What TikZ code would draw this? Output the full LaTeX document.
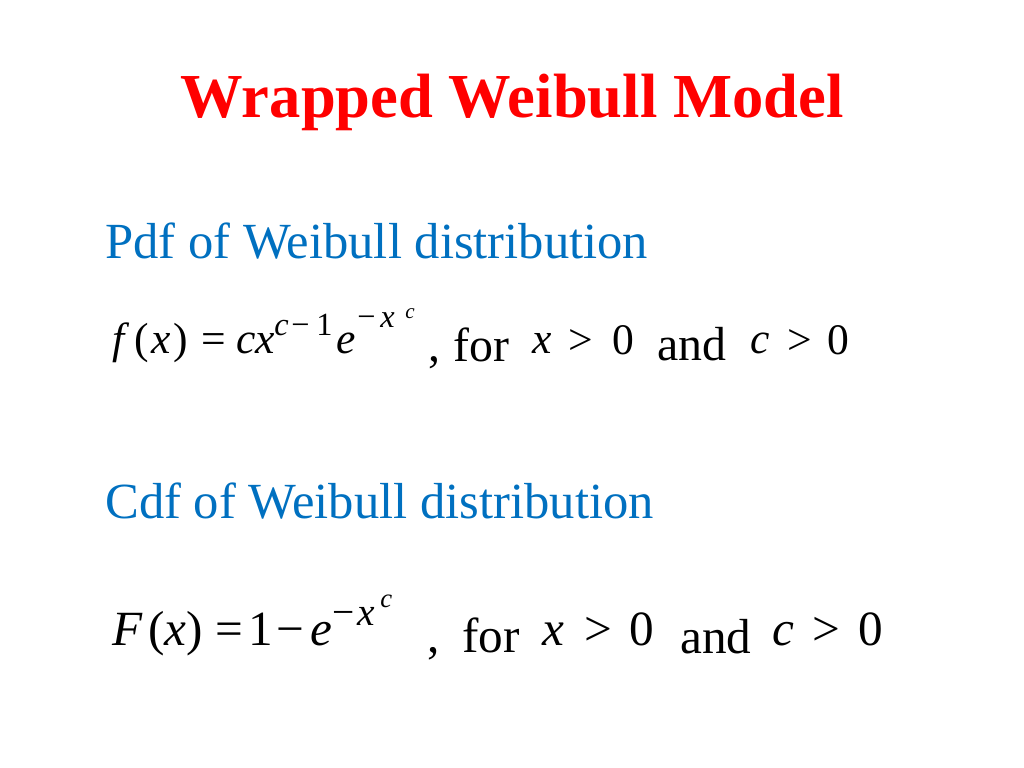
\documentclass[tikz,border=0pt]{standalone}
\usepackage{fontspec}
\setmainfont{Liberation Serif}
\usetikzlibrary{positioning}
\definecolor{titlered}{RGB}{255,0,0}
\definecolor{headblue}{RGB}{0,112,192}
\tikzset{
	every node/.style={inner sep=0pt, anchor=base west},
	titletext/.style={text=titlered, anchor=base, font=\fontsize{44.5}{48}\selectfont\bfseries},
	headtext/.style={text=headblue, font=\fontsize{36}{40}\selectfont},
	mi/.style={font=\fontsize{#1}{#1}\selectfont\itshape},
	mr/.style={font=\fontsize{#1}{#1}\selectfont}
}

\begin{document}
\begin{tikzpicture}[x=0.025cm,y=-0.025cm]
		\useasboundingbox (0,0) rectangle (1024,768);
		\node[titletext] (title) at (512,118) {Wrapped Weibull Model};
		\node[headtext] (pdfhead) at (105,258) {Pdf of Weibull distribution};
		\node[headtext] (cdfhead) at (105,518) {Cdf of Weibull distribution};
		% pdf line
		\foreach \px/\tok [count=\i] in {112/f,236/cx,336/e}
			\node[mi=31] (pa\i) at (\px,353) {\tok};
		\node[mr=31] (pargs) at (134,353) {(\kern2pt\textit{x}\kern2pt)};
		\node[mr=31] (peq) at (201,353) {=};
		\foreach \px/\tok [count=\i] in {532/x,750/c}
			\node[mi=31] (pe\i) at (\px,353) {\tok};
		\foreach \px/\tok [count=\i] in {568/>,612/0,787/>,827/0}
			\node[mr=31] (pf\i) at (\px,354) {\tok};
		\node[mi=23] (pc1) at (274,335) {c};
		\node[mr=23] (pc2) at (291,335) {−};
		\node[mr=23] (pc3) at (316,335) {1};
		\node[mr=23] (pd1) at (357,327) {−};
		\node[mi=23] (pd2) at (380,327) {x};
		\node[mi=15] (pd3) at (405,318) {c};
		\node[mr=34] (pcomma) at (428,361) {,};
		\node[mr=34] (pfor) at (453,361) {for};
		\node[mr=34] (pand) at (657,360) {and};
		% cdf line
		\foreach \px/\tok [count=\i] in {112/F,310/e,542/x,772/c}
			\node[mi=35] (ca\i) at (\px,645) {\tok};
		\node[mr=35] (cargs) at (148,645) {(\textit{x})};
		\foreach \px/\tok [count=\i] in {215/=,248/1,276/−,584/>,629/0,812/>,858/0}
			\node[mr=35] (cb\i) at (\px,645) {\tok};
		\node[mr=28] (cc1) at (332,625) {−};
		\node[mi=28] (cc2) at (357,625) {x};
		\node[mi=19] (cc3) at (380,607) {c};
		\node[mr=35] (ccomma) at (427,652) {,};
		\node[mr=35] (cfor) at (462,652) {for};
		\node[mr=35] (cand) at (680,653) {and};
\end{tikzpicture}
\end{document}
